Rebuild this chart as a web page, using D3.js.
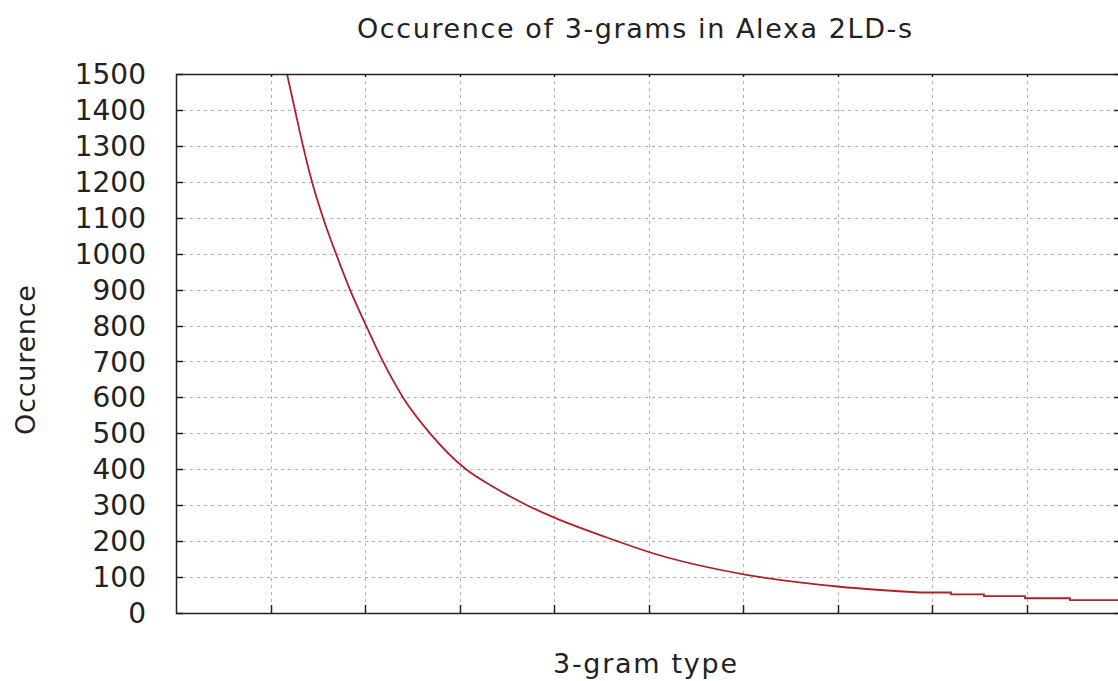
<!DOCTYPE html>
<html><head><meta charset="utf-8">
<script src="https://cdn.jsdelivr.net/npm/d3@7"></script>
<style>body{margin:0;background:#fff;} svg{display:block;}</style>
</head><body>
<svg id="c" width="1118" height="681"></svg>
<script>
// 3-gram rank (arbitrary units, grid step = 1000) and occurrence
const ranks = [1175,1259,1344,1439,1556,1693,1841,2011,2190,2402,2688,3069,3365,3714,3979,4667,5037,6021,7026,7873];
const counts = [1500,1400,1300,1200,1100,1000,900,800,700,600,500,400,350,300,268,200,167,107,73,57];
const tailRanks = [7873,8201,8550,8984,9460,10000];
const tailCounts = [57,52,47,41,36,31];
const yTicks = [0,100,200,300,400,500,600,700,800,900,1000,1100,1200,1300,1400,1500];
const xTicks = [1000,2000,3000,4000,5000,6000,7000,8000,9000];
const title = "Occurence of 3-grams in Alexa 2LD-s";
const xLabel = "3-gram type";
const yLabel = "Occurence";

const L=176, T=74, R=1121, B=613;
const svg = d3.select("#c");
const x = d3.scaleLinear().domain([0,10000]).range([L,R]);
const y = d3.scaleLinear().domain([0,1500]).range([B,T]);
const font = "DejaVu Sans, sans-serif";

// grid
const grid = svg.append("g").attr("stroke","#b0b0b0").attr("stroke-width",1).attr("stroke-dasharray","3,4");
grid.selectAll("line.h").data(yTicks.filter(d=>d>0&&d<1500)).join("line")
  .attr("x1",L).attr("x2",R).attr("y1",d=>Math.round(y(d))+0.5).attr("y2",d=>Math.round(y(d))+0.5);
grid.selectAll("line.v").data(xTicks).join("line")
  .attr("y1",T).attr("y2",B).attr("x1",d=>Math.round(x(d))+0.5).attr("x2",d=>Math.round(x(d))+0.5);

// data line
svg.append("clipPath").attr("id","clp").append("rect").attr("x",L).attr("y",T).attr("width",R-L).attr("height",B-T);
const main = ranks.map((r,i)=>[r,counts[i]]);
const tail = tailRanks.map((r,i)=>[r,tailCounts[i]]);
const g = svg.append("g").attr("clip-path","url(#clp)");
g.append("path").datum(main)
  .attr("d", d3.line().x(d=>x(d[0])).y(d=>y(d[1])).curve(d3.curveMonotoneX))
  .attr("fill","none").attr("stroke","#b0202a").attr("stroke-width",1.8);
g.append("path").datum(tail)
  .attr("d", d3.line().x(d=>x(d[0])).y(d=>y(d[1])).curve(d3.curveStepAfter))
  .attr("fill","none").attr("stroke","#b0202a").attr("stroke-width",1.8);

// frame
svg.append("rect").attr("x",L+0.5).attr("y",T+0.5).attr("width",R-L).attr("height",B-T)
  .attr("fill","none").attr("stroke","#222").attr("stroke-width",1.5);

// ticks
const tk = svg.append("g").attr("stroke","#222").attr("stroke-width",1.5);
tk.selectAll("line.yl").data(yTicks).join("line")
  .attr("x1",L).attr("x2",L+7).attr("y1",d=>Math.round(y(d))+0.5).attr("y2",d=>Math.round(y(d))+0.5);
tk.selectAll("line.yr").data(yTicks).join("line")
  .attr("x1",R-7).attr("x2",R).attr("y1",d=>Math.round(y(d))+0.5).attr("y2",d=>Math.round(y(d))+0.5);
tk.selectAll("line.xb").data(xTicks).join("line")
  .attr("y1",B-8).attr("y2",B).attr("x1",d=>Math.round(x(d))+0.5).attr("x2",d=>Math.round(x(d))+0.5);
tk.selectAll("line.xt").data(xTicks).join("line")
  .attr("y1",T).attr("y2",T+3).attr("x1",d=>Math.round(x(d))+0.5).attr("x2",d=>Math.round(x(d))+0.5);

// y tick labels
svg.append("g").selectAll("text").data(yTicks).join("text")
  .attr("x",146).attr("y",d=>y(d)).attr("dy","0.36em").attr("text-anchor","end")
  .attr("font-family",font).attr("font-size",28).attr("fill","#222").text(d=>d);

// titles
svg.append("text").attr("x",357).attr("y",38).attr("textLength",555).attr("lengthAdjust","spacing")
  .attr("font-family",font).attr("font-size",27).attr("fill","#222").text(title);
svg.append("text").attr("x",553).attr("y",673).attr("textLength",184).attr("lengthAdjust","spacing")
  .attr("font-family",font).attr("font-size",27).attr("fill","#222").text(xLabel);
svg.append("text").attr("transform","translate(35,435) rotate(-90)").attr("textLength",150).attr("lengthAdjust","spacing")
  .attr("font-family",font).attr("font-size",27).attr("fill","#222").text(yLabel);
</script>
</body></html>
